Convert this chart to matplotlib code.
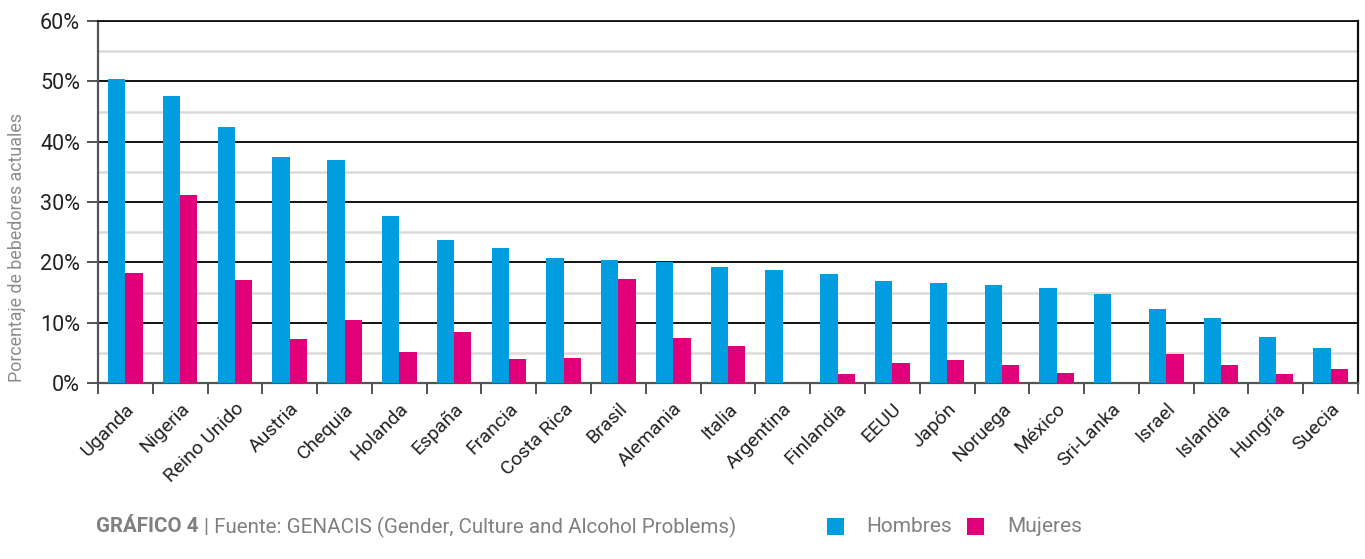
import matplotlib
matplotlib.use("Agg")
import matplotlib.pyplot as plt
import numpy as np
from matplotlib.patches import Rectangle
from matplotlib.ticker import MultipleLocator, FixedLocator, FuncFormatter

plt.rcParams['font.family'] = ['Roboto', 'DejaVu Sans']

countries = ["Uganda", "Nigeria", "Reino Unido", "Austria", "Chequia", "Holanda",
             "España", "Francia", "Costa Rica", "Brasil", "Alemania", "Italia",
             "Argentina", "Finlandia", "EEUU", "Japón", "Noruega", "México",
             "Sri-Lanka", "Israel", "Islandia", "Hungría", "Suecia"]
hombres = [50.4, 47.5, 42.4, 37.4, 36.9, 27.6, 23.7, 22.4, 20.7, 20.4, 20.1, 19.3,
           18.8, 18.1, 16.9, 16.6, 16.2, 15.7, 14.8, 12.3, 10.8, 7.6, 5.8]
mujeres = [18.25, 31.1, 17.1, 7.3, 10.4, 5.1, 8.4, 3.9, 4.1, 17.25, 7.4, 6.1,
           0.0, 1.45, 3.3, 3.8, 2.95, 1.6, 0.0, 4.8, 2.95, 1.45, 2.3]
series_names = ["Hombres", "Mujeres"]

BLUE = "#009EE0"
PINK = "#E2007A"
GRAY = "#808080"

W, H = 1365, 559
fig = plt.figure(figsize=(W/100, H/100), dpi=100)
ax = fig.add_axes([98/W, 1-383/H, (1358-98)/W, (383-21)/H])

x = np.arange(len(countries))
w = 0.316
ax.bar(x - w/2, hombres, width=w, color=BLUE, label=series_names[0], zorder=3)
ax.bar(x + w/2, mujeres, width=w, color=PINK, label=series_names[1], zorder=3)

ax.set_xlim(-0.5, len(countries) - 0.5)
ax.set_ylim(0, 60)

ax.yaxis.set_major_locator(MultipleLocator(10))
ax.yaxis.set_minor_locator(MultipleLocator(5))
ax.yaxis.set_major_formatter(FuncFormatter(lambda v, p: f"{int(v)}%"))
ax.grid(axis='y', which='major', color='black', linewidth=1.3, zorder=1)
ax.grid(axis='y', which='minor', color='#dadada', linewidth=1.8, zorder=1)
ax.set_axisbelow(True)
ax.tick_params(axis='y', which='major', direction='out', length=8, width=1.3,
               color='#444444', labelsize=15.5, labelcolor='#222222', pad=5)
ax.tick_params(axis='y', which='minor', length=0)

ax.set_xticks(x)
ax.set_xticklabels(countries, rotation=45, ha='right', va='top',
                   rotation_mode='anchor', fontsize=14, color='#222222')
ax.xaxis.set_minor_locator(FixedLocator(np.arange(-0.5, len(countries), 1.0)))
ax.tick_params(axis='x', which='major', length=0, pad=12)
ax.tick_params(axis='x', which='minor', direction='out', length=8, width=1.3,
               color='#444444')

for side in ['left', 'bottom']:
    ax.spines[side].set_color('#555555')
    ax.spines[side].set_linewidth(1.6)
ax.spines['right'].set_color('#111111')
ax.spines['right'].set_linewidth(1.6)
ax.spines['top'].set_color('#111111')
ax.spines['top'].set_linewidth(1.3)

fig.text(17/W, 1-248/H, "Porcentaje de bebedores actuales", rotation=90,
         ha='center', va='center', fontsize=12.9, color='#8c8c8c')

ty = 1-527/H
fig.text(96/W, ty, "GRÁFICO 4", fontsize=14.8, fontweight='bold',
         color=GRAY, ha='left', va='center')
fig.text(204/W, ty, "| Fuente: GENACIS (Gender, Culture and Alcohol Problems)",
         fontsize=14.8, color=GRAY, ha='left', va='center')

# legend (manual)
for (sx, tx), col, name in zip([(827, 866), (967, 1007)], [BLUE, PINK], series_names):
    fig.patches.append(Rectangle((sx/W, 1-535/H), 17/W, 17/H, transform=fig.transFigure,
                                 facecolor=col, edgecolor='none'))
    fig.text(tx/W, ty, name, fontsize=15, color=GRAY, ha='left', va='center')

fig.savefig("out.png", dpi=100)
